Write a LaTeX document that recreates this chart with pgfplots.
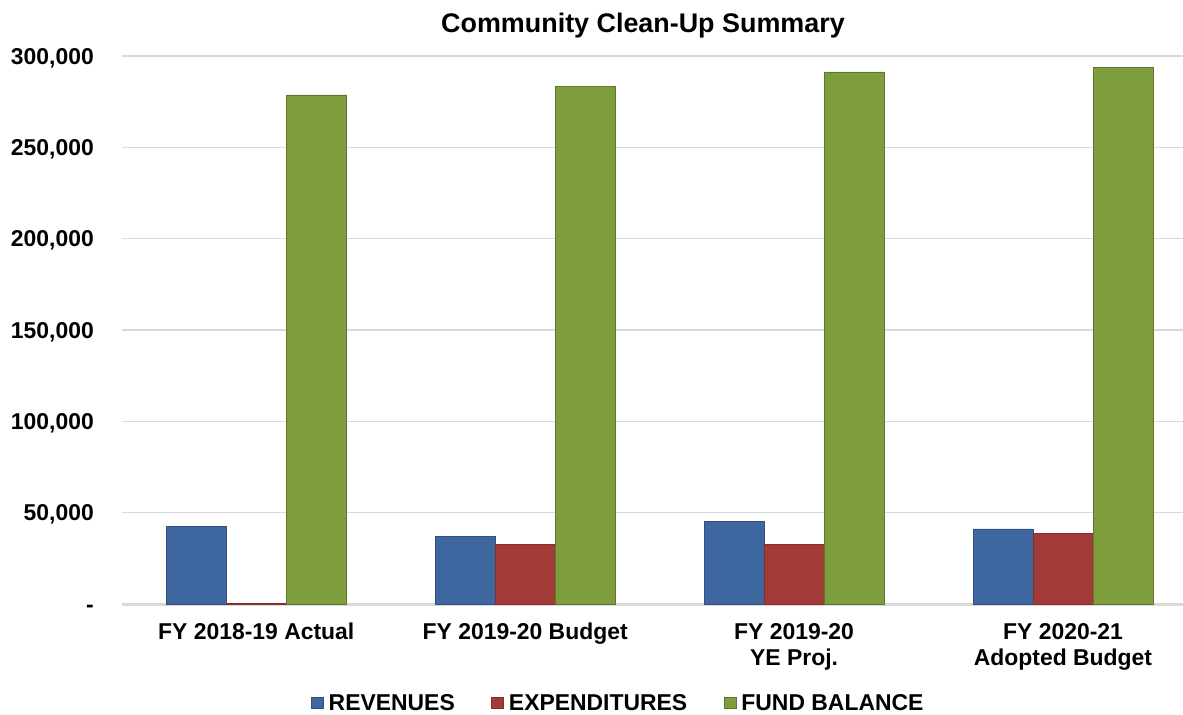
\documentclass[border=0pt]{standalone}
\usepackage{pgfplots}
\pgfplotsset{compat=1.18}
\usepackage{fontspec}
\setmainfont{Liberation Sans}
\definecolor{cblue}{HTML}{3D679E}
\definecolor{cred}{HTML}{A23B38}
\definecolor{cgreen}{HTML}{7E9E3E}
\definecolor{gridc}{HTML}{D9D9D9}
\begin{document}
\begin{tikzpicture}
\path[use as bounding box] (0,0) rectangle (1183bp,-715bp);
\node[font=\fontsize{27}{30}\selectfont\bfseries, anchor=base] at (643bp,-32bp) {Community Clean-Up Summary};
\begin{axis}[
  at={(121.8bp,-604bp)}, anchor=south west,
  scale only axis, width=1061.2bp, height=548bp,
  ybar=0pt, bar width=60bp,
  xmin=-0.5, xmax=3.446,
  ymin=0, ymax=300000,
  scaled y ticks=false,
  xtick=data,
  xticklabels={FY 2018-19 Actual, FY 2019-20 Budget, {FY 2019-20\\YE Proj.}, {FY 2020-21\\Adopted Budget}},
  xticklabel style={font=\fontsize{23}{26.5}\selectfont\bfseries, align=center, anchor=north, inner sep=0pt, yshift=-19bp},
  ytick={0,50000,100000,150000,200000,250000,300000},
  yticklabels={-,{50,000},{100,000},{150,000},{200,000},{250,000},{300,000}},
  yticklabel style={font=\fontsize{23}{26}\selectfont\bfseries, anchor=base east, inner sep=0pt, xshift=-27.8bp, yshift=-8bp},
  major tick length=0pt,
  ymajorgrids, grid style={gridc, line width=1.3bp},
  axis x line=bottom, axis y line=left,
  x axis line style={-, draw=gridc, line width=3bp},
  y axis line style={draw=none},
  legend columns=3,
  legend style={at={(0.467,-0.1815)}, anchor=center, draw=none, fill=none,
    font=\fontsize{23}{25}\selectfont\bfseries,
    nodes={inner sep=0pt},
    /tikz/every even column/.append style={column sep=36.7bp},
    /tikz/every odd column/.append style={column sep=5bp}},
  legend image code/.code={\draw[#1, line width=0.5bp] (0bp,-5bp) rectangle (12bp,6bp);},
]
\addplot[fill=cblue, draw=cblue!80!black, line width=0.6bp] coordinates {(0,42700) (1,37200) (2,45100) (3,41100)};
\addplot[fill=cred, draw=cred!80!black, line width=0.6bp] coordinates {(0,300) (1,32700) (2,32700) (3,38700)};
\addplot[fill=cgreen, draw=cgreen!75!black, line width=0.6bp] coordinates {(0,278700) (1,283300) (2,291350) (3,293900)};
\legend{REVENUES, EXPENDITURES, FUND BALANCE}
\end{axis}
\end{tikzpicture}
\end{document}
